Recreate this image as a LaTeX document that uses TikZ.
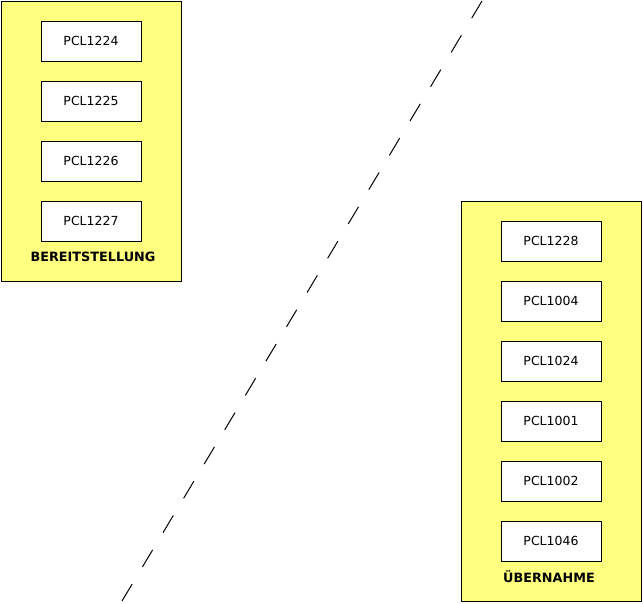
\documentclass[tikz,border=0pt]{standalone}
\usepackage{fontspec}
\setmainfont{DejaVu Sans}
\definecolor{panelyellow}{RGB}{255,255,128}
\begin{document}
\begin{tikzpicture}[x=1pt,y=-1pt,
  panel/.style={draw=black,line width=1pt,fill=panelyellow,rectangle,inner sep=0pt,minimum width=180pt},
  pcl/.style={draw=black,line width=1pt,fill=white,rectangle,inner sep=0pt,minimum width=100pt,minimum height=40pt,font=\fontsize{12.5}{15}\selectfont},
  paneltitle/.style={inner sep=0pt,font=\fontsize{12.8}{15}\selectfont\bfseries},
  divider/.style={draw=black,line width=1pt,dash pattern=on 20pt off 20pt}]
\useasboundingbox (0,0) rectangle (643,603);
% left panel
\node[panel,minimum height=280pt] (left) at (91,141) {};
\node[pcl] (p1224) at (91,41) {PCL1224};
\node[pcl] (p1225) at (91,101) {PCL1225};
\node[pcl] (p1226) at (91,161) {PCL1226};
\node[pcl] (p1227) at (91,221) {PCL1227};
\node[paneltitle] (ltitle) at (93,257) {BEREITSTELLUNG};
% right panel
\node[panel,minimum height=400pt] (right) at (551,401) {};
\node[pcl] (p1228) at (551,241) {PCL1228};
\node[pcl] (p1004) at (551,301) {PCL1004};
\node[pcl] (p1024) at (551,361) {PCL1024};
\node[pcl] (p1001) at (551,421) {PCL1001};
\node[pcl] (p1002) at (551,481) {PCL1002};
\node[pcl] (p1046) at (551,541) {PCL1046};
\node[paneltitle] (rtitle) at (549,577) {ÜBERNAHME};
% dashed divider
\coordinate (dtop) at (482,1);
\coordinate (dbot) at (122,601);
\draw[divider] (dtop) -- (dbot);
\end{tikzpicture}
\end{document}
